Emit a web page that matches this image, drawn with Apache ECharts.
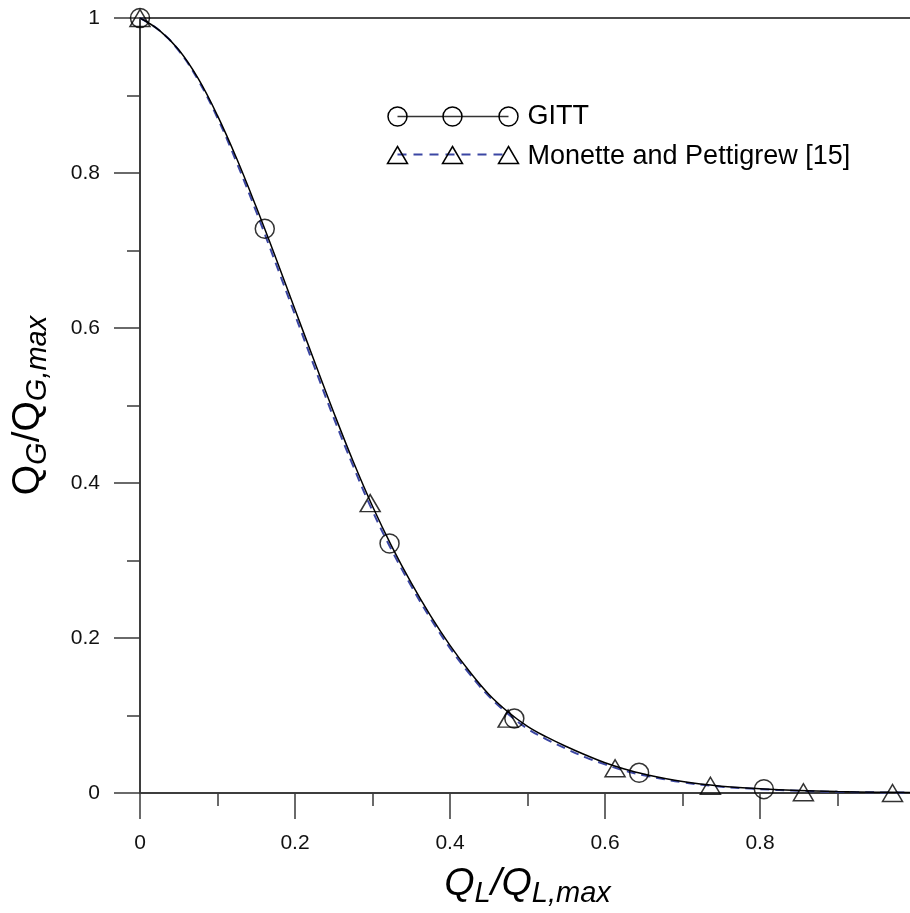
<!DOCTYPE html>
<html>
<head>
<meta charset="utf-8">
<style>
  html, body { margin: 0; padding: 0; background: #fff; }
  #chart { width: 910px; height: 913px; }
</style>
<script src="https://cdn.jsdelivr.net/npm/echarts@6/dist/echarts.min.js"></script>
</head>
<body>
<div id="chart"></div>
<script>
// Measured points (symbols)
const gittX = [0, 0.161, 0.322, 0.483, 0.644, 0.805];
const gittY = [1.0, 0.728, 0.322, 0.096, 0.026, 0.005];
const monetteX = [0, 0.297, 0.475, 0.613, 0.736, 0.856, 0.971];
const monetteY = [1.0, 0.374, 0.096, 0.032, 0.0094, 0.001, 0.0];

// Fitted curves, sampled along Q_L/Q_L,max
const curveX = [0, 0.025, 0.05, 0.075, 0.1, 0.125, 0.15, 0.175, 0.2, 0.225, 0.25, 0.275,
  0.3, 0.325, 0.35, 0.375, 0.4, 0.425, 0.45, 0.475, 0.5, 0.525, 0.55, 0.575, 0.6, 0.625,
  0.65, 0.7, 0.75, 0.8, 0.85, 0.9, 0.95, 1.0];
const gittCurveY = [1.0, 0.984, 0.959, 0.922, 0.874, 0.818, 0.756, 0.691, 0.624, 0.557, 0.491, 0.428,
  0.370, 0.318, 0.271, 0.2285, 0.1905, 0.157, 0.1275, 0.1045, 0.086, 0.072, 0.060, 0.049, 0.039, 0.031,
  0.0245, 0.0148, 0.0088, 0.0055, 0.0032, 0.0018, 0.001, 0.0005];
const monetteCurveY = [1.0, 0.984, 0.958, 0.920, 0.871, 0.813, 0.750, 0.684, 0.617, 0.550, 0.484, 0.422,
  0.364, 0.313, 0.267, 0.225, 0.187, 0.154, 0.125, 0.102, 0.083, 0.069, 0.057, 0.046, 0.037, 0.029,
  0.023, 0.0138, 0.0082, 0.0050, 0.0028, 0.0015, 0.0008, 0.0004];

// Axis ticks
const xTickInterval = 0.2;
const yTickInterval = 0.2;

const zip = (xs, ys) => xs.map((x, i) => [x, ys[i]]);

const FONT = '"Liberation Sans", Arial, Helvetica, sans-serif';
const AXIS_COLOR = '#3a3a3a';
const BLUE = '#3b46a3';

// Axis title: main glyphs plus lowered, smaller italic subscripts
const titleRich = (italicMain) => ({
  m: { fontSize: 39, lineHeight: 44, fontStyle: italicMain ? 'italic' : 'normal', fontFamily: FONT, color: '#000' },
  s: { fontSize: 29, lineHeight: 24, padding: [20, 0, 0, 0], fontStyle: 'italic', fontFamily: FONT, color: '#000' }
});

function makeValueAxis(interval) {
  return {
    type: 'value',
    min: 0,
    max: 1,
    interval: interval,
    splitLine: { show: false },
    axisLine: { show: true, lineStyle: { color: AXIS_COLOR, width: 1.5 } },
    axisTick: { show: true, inside: false, length: 26, lineStyle: { color: AXIS_COLOR, width: 1.5 } },
    minorTick: { show: true, splitNumber: 2, length: 13, lineStyle: { color: AXIS_COLOR, width: 1.5 } },
    axisLabel: {
      fontSize: 21, color: '#111', fontFamily: FONT, margin: 40,
      formatter: v => String(+v.toFixed(1))
    }
  };
}

const xMain = Object.assign(makeValueAxis(xTickInterval), {
  name: '{m|Q}{s|L}{m|/Q}{s|L,max}',
  nameLocation: 'middle',
  nameGap: 69,
  nameTextStyle: { rich: titleRich(true) }
});

const yMain = Object.assign(makeValueAxis(yTickInterval), {
  name: '{m|Q}{s|G}{m|/Q}{s|G,max}',
  nameLocation: 'middle',
  nameGap: 90,
  nameTextStyle: { rich: titleRich(false) }
});

const chart = echarts.init(document.getElementById('chart'), null, { renderer: 'canvas' });

const option = {
  animation: false,
  backgroundColor: '#fff',
  // The grid border supplies the frame line along the top at y = 1
  grid: {
    left: 140, top: 18, right: -5, bottom: 120, containLabel: false, outerBoundsMode: 'none',
    show: true, borderColor: '#111', borderWidth: 1.5, backgroundColor: 'transparent'
  },
  xAxis: xMain,
  yAxis: yMain,
  series: [
    {
      name: 'GITT fit', type: 'line', data: zip(curveX, gittCurveY),
      smooth: 0.4, showSymbol: false, symbol: 'none',
      lineStyle: { color: '#000', width: 1.5 }, z: 3
    },
    {
      name: 'Monette fit', type: 'line', data: zip(curveX, monetteCurveY),
      smooth: 0.4, showSymbol: false, symbol: 'none',
      lineStyle: { color: BLUE, width: 2, type: [9, 6] }, z: 2
    },
    {
      name: 'GITT', type: 'scatter', data: zip(gittX, gittY),
      symbol: 'circle', symbolSize: 19, clip: false,
      itemStyle: { color: 'rgba(0,0,0,0)', borderColor: '#000', borderWidth: 1.5 }, z: 4
    },
    {
      name: 'Monette and Pettigrew [15]', type: 'scatter', data: zip(monetteX, monetteY),
      symbol: 'triangle', symbolSize: [20, 17], clip: false,
      itemStyle: { color: 'rgba(0,0,0,0)', borderColor: '#000', borderWidth: 1.5 }, z: 4
    }
  ],
  graphic: [
    {
      type: 'group', left: 385, top: 103,
      children: [
        { type: 'line', shape: { x1: 10, y1: 10, x2: 121, y2: 10 }, style: { stroke: '#333', lineWidth: 1.5 } },
        { type: 'circle', shape: { cx: 10, cy: 10, r: 9.5 }, style: { fill: 'none', stroke: '#000', lineWidth: 1.5 } },
        { type: 'circle', shape: { cx: 65, cy: 10, r: 9.5 }, style: { fill: 'none', stroke: '#000', lineWidth: 1.5 } },
        { type: 'circle', shape: { cx: 121, cy: 10, r: 9.5 }, style: { fill: 'none', stroke: '#000', lineWidth: 1.5 } },
        { type: 'text', x: 140, y: 10, style: { text: 'GITT', fontSize: 27, fontFamily: FONT, fill: '#000', verticalAlign: 'middle', align: 'left' } },

        { type: 'line', shape: { x1: 10, y1: 48, x2: 121, y2: 48 }, style: { stroke: BLUE, lineWidth: 2, lineDash: [9, 7] } },
        { type: 'polygon', shape: { points: [[10, 40], [20, 57], [0, 57]] }, style: { fill: 'none', stroke: '#000', lineWidth: 1.5 } },
        { type: 'polygon', shape: { points: [[65, 40], [75, 57], [55, 57]] }, style: { fill: 'none', stroke: '#000', lineWidth: 1.5 } },
        { type: 'polygon', shape: { points: [[121, 40], [131, 57], [111, 57]] }, style: { fill: 'none', stroke: '#000', lineWidth: 1.5 } },
        { type: 'text', x: 140, y: 50, style: { text: 'Monette and Pettigrew [15]', fontSize: 27, fontFamily: FONT, fill: '#000', verticalAlign: 'middle', align: 'left' } }
      ]
    }
  ]
};

chart.setOption(option);
</script>
</body>
</html>
